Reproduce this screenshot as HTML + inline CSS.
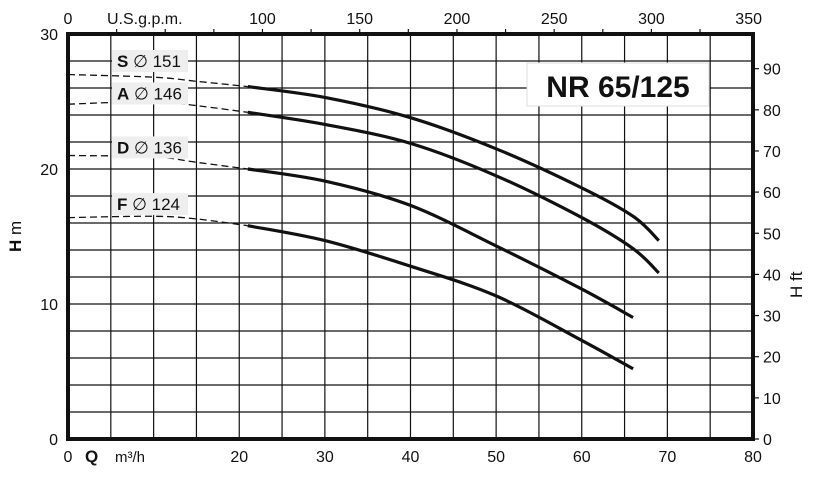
<!DOCTYPE html>
<html><head><meta charset="utf-8"><style>
body{margin:0;background:#fff;width:817px;height:475px;overflow:hidden}
svg text{font-family:"Liberation Sans",Arial,sans-serif;fill:#111}
</style></head><body>
<svg id="chart" width="817" height="475" viewBox="0 0 817 475"></svg>
<script>
const qTicks=[0,20,30,40,50,60,70,80];
const hTicks=[0,10,20,30];
const gpmTicks=[0,100,150,200,250,300,350];
const ftTicks=[0,10,20,30,40,50,60,70,80,90];
const seriesNames=["S","A","D","F"];
const seriesDia=["151","146","136","124"];
const dashQ=[0,10,15,21];
const solidQ=[21,30,40,50,60,66];
const S_dash=[27.0,26.8,26.5,26.1];
const S_solid=[26.1,25.3,23.8,21.5,18.6,16.5];
const S_end=[69,14.7];
const A_dash=[24.8,25.0,24.7,24.2];
const A_solid=[24.2,23.3,21.9,19.5,16.4,14.1];
const A_end=[69,12.3];
const D_dash=[21.0,20.9,20.5,20.0];
const D_solid=[20.0,19.1,17.3,14.3,11.1,9.0];
const F_dash=[16.4,16.5,16.3,15.8];
const F_solid=[15.8,14.7,12.8,10.6,7.3,5.2];
const labelH=[28.0,25.6,21.6,17.4];

const L=68,R=753,T=34,B=439;
const x=q=>L+(R-L)*q/80;
const y=h=>B-(B-T)*h/30;
const xg=g=>x(g*0.22712);
const yf=f=>y(f*0.3048);
const NS="http://www.w3.org/2000/svg";
const svg=document.getElementById('chart');
function el(t,a,txt){const e=document.createElementNS(NS,t);for(const k in a)e.setAttribute(k,a[k]);if(txt!==undefined)e.textContent=txt;svg.appendChild(e);return e;}

for(let q=5;q<80;q+=5){const l=el('line',{x1:x(q),x2:x(q),y1:T,y2:B,stroke:'#111','stroke-width':1.2});

}
for(let h=2;h<30;h+=2){const l=el('line',{x1:L,x2:R,y1:y(h),y2:y(h),stroke:'#111','stroke-width':1.2});

}
const fr=el('rect',{x:L,y:T,width:R-L,height:B-T,fill:'none',stroke:'#111','stroke-width':4});



qTicks.forEach(q=>{const t=el('text',{x:x(q),y:462,'font-size':16,'text-anchor':'middle'},q);

});
hTicks.forEach(h=>{const t=el('text',{x:58,y:y(h)+6,'font-size':16,'text-anchor':'end'},h);

});
for(let g=25;g<350;g+=25){const m=el('line',{x1:xg(g),x2:xg(g),y1:T-5,y2:T,stroke:'#111','stroke-width':1.2});

}
gpmTicks.forEach(g=>{const t=el('text',{x:xg(g),y:24,'font-size':16,'text-anchor':'middle'},g);

});
ftTicks.forEach(f=>{const m=el('line',{x1:R,x2:R+6,y1:yf(f),y2:yf(f),stroke:'#111','stroke-width':1.2});


const t=el('text',{x:763,y:yf(f)+6,'font-size':16},f);

});

let t=el('text',{x:107,y:24,'font-size':16},'U.S.g.p.m.');


t=el('text',{x:85,y:462,'font-size':17,'font-weight':'bold'},'Q');


t=el('text',{x:115,y:462,'font-size':15},'m³/h');


t=el('text',{x:0,y:0,'font-size':17,transform:'translate(21,252) rotate(-90)'});
t.innerHTML='<tspan font-weight="bold">H</tspan>  m';


t=el('text',{x:0,y:0,'font-size':17,transform:'translate(802,298) rotate(-90)'},'H ft');



const dash=[S_dash,A_dash,D_dash,F_dash], solid=[S_solid,A_solid,D_solid,F_solid];
const ends=[S_end,A_end,null,null];
function pathD(qs,hs){
  const p=qs.map((q,i)=>[x(q),y(hs[i])]);
  let d='M'+p[0][0].toFixed(1)+','+p[0][1].toFixed(1);
  for(let i=0;i<p.length-1;i++){
    const p0=p[i-1]||p[i],p1=p[i],p2=p[i+1],p3=p[i+2]||p2;
    const c1=[p1[0]+(p2[0]-p0[0])/6,p1[1]+(p2[1]-p0[1])/6];
    const c2=[p2[0]-(p3[0]-p1[0])/6,p2[1]-(p3[1]-p1[1])/6];
    d+=' C'+c1.map(v=>v.toFixed(1)).join(',')+' '+c2.map(v=>v.toFixed(1)).join(',')+' '+p2.map(v=>v.toFixed(1)).join(',');
  }
  return d;
}
seriesNames.forEach((n,i)=>{
  const dp=el('path',{d:pathD(dashQ,dash[i]),fill:'none',stroke:'#111','stroke-width':1.3,'stroke-dasharray':'7,4'});
  
  
  let qs=solidQ.slice(),hs=solid[i].slice();
  if(ends[i]){qs.push(ends[i][0]);hs.push(ends[i][1]);}
  const sp=el('path',{d:pathD(qs,hs),fill:'none',stroke:'#111','stroke-width':3.2,'stroke-linejoin':'round'});
  
  
  const bg=el('rect',{x:112,y:y(labelH[i])-11,width:76,height:22,fill:'#eeeeee'});
  
  
  const lt=el('text',{x:117,y:y(labelH[i])+6,'font-size':17});
  lt.innerHTML='<tspan font-weight="bold">'+n+'</tspan> ∅ '+seriesDia[i];
  
  
});

const tb=el('rect',{x:527,y:63,width:182,height:43,fill:'#fff',stroke:'#ddd','stroke-width':1});


t=el('text',{x:618,y:97,'font-size':30,'font-weight':'bold','text-anchor':'middle'},'NR 65/125');


</script>
</body></html>
